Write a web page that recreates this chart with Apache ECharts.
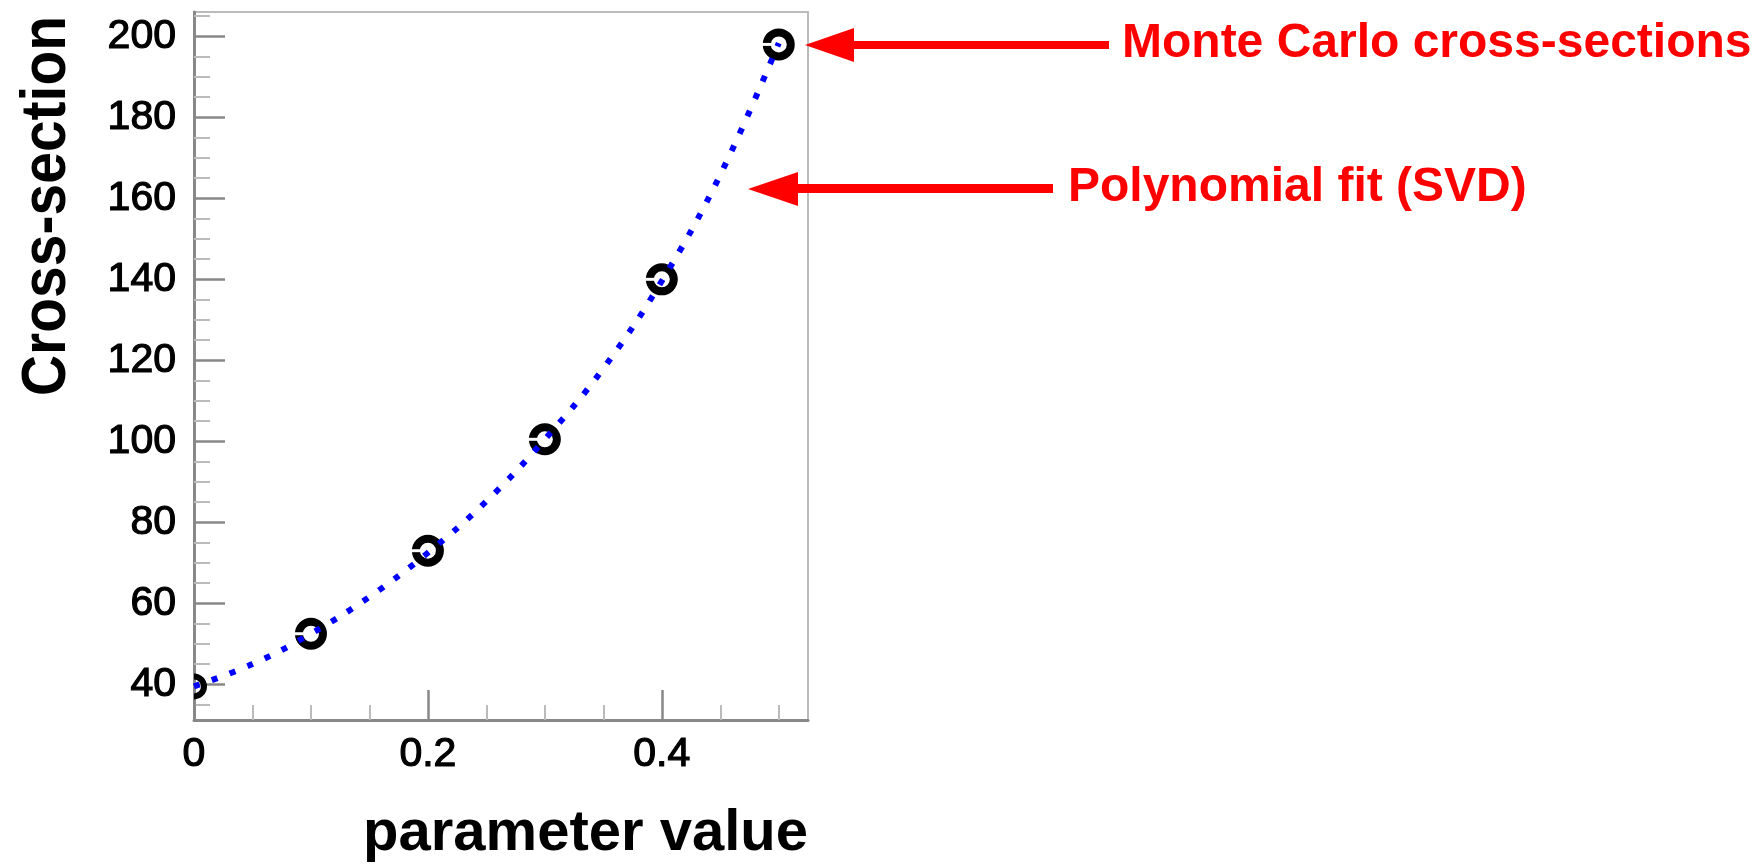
<!DOCTYPE html>
<html>
<head>
<meta charset="utf-8">
<title>Cross-section vs parameter value</title>
<script src="https://cdn.jsdelivr.net/npm/echarts@6/dist/echarts.min.js"></script>
<style>
  html, body { margin: 0; padding: 0; background: #fff; }
  #chart { width: 1755px; height: 865px; }
</style>
</head>
<body>
<div id="chart"></div>
<script>
// Monte Carlo points
const paramValues = [0, 0.1, 0.2, 0.3, 0.4, 0.5]
const mcCrossSections = [39.5, 52.5, 73, 100.5, 140, 198]
// polynomial fit curve
const fitX = [0, 0.05, 0.1, 0.15, 0.2, 0.25, 0.3, 0.35, 0.4, 0.45, 0.5]
const fitY = [39.5, 45, 52.5, 61.6, 72.5, 85.2, 100.5, 118, 139.6, 165.8, 198.3]
// axis ticks
const xLabelTicks = [0, 0.2, 0.4]
const xMinorTicks = [0.05, 0.1, 0.15, 0.25, 0.3, 0.35, 0.45, 0.5]
const yLabelTicks = [40, 60, 80, 100, 120, 140, 160, 180, 200]
const yMinorTicks = [35, 45, 50, 55, 65, 70, 75, 85, 90, 95, 105, 110, 115, 125, 130, 135,
  145, 150, 155, 165, 170, 175, 185, 190, 195, 205]

const FONT = '"Liberation Sans", Arial, Helvetica, sans-serif'
const MARKER_R = 12

let labelStyle = {
  color: '#000', fontSize: 41, fontFamily: FONT,
  textBorderColor: '#000', textBorderWidth: 1.2
}

let chart = echarts.init(document.getElementById('chart'))
let option = {
  animation: false,
  backgroundColor: '#fff',
  grid: {
    left: 194, right: 947, top: 12, bottom: 145,
    show: true, borderColor: '#bbb', borderWidth: 2,
    outerBoundsMode: 'none'
  },
  xAxis: [{
    type: 'value', min: 0, max: 0.525, position: 'bottom',
    axisLine: { show: true, onZero: false, lineStyle: { color: '#888', width: 3 } },
    axisTick: { show: true, inside: true, length: 15, customValues: xMinorTicks, lineStyle: { color: '#bbb', width: 2 } },
    axisLabel: Object.assign({ customValues: xLabelTicks, margin: 14 }, labelStyle),
    splitLine: { show: false }
  }, {
    type: 'value', min: 0, max: 0.525, position: 'bottom',
    axisLine: { show: false, onZero: false },
    axisTick: { show: true, inside: true, length: 30, customValues: xLabelTicks, lineStyle: { color: '#888', width: 2.5 } },
    axisLabel: { show: false },
    splitLine: { show: false }
  }],
  yAxis: [{
    type: 'value', min: 31.2, max: 206, position: 'left',
    axisLine: { show: true, onZero: false, lineStyle: { color: '#888', width: 3 } },
    axisTick: { show: true, inside: true, length: 16, customValues: yMinorTicks, lineStyle: { color: '#bbb', width: 2 } },
    axisLabel: Object.assign({ customValues: yLabelTicks, margin: 18 }, labelStyle),
    splitLine: { show: false }
  }, {
    type: 'value', min: 31.2, max: 206, position: 'left',
    axisLine: { show: false, onZero: false },
    axisTick: { show: true, inside: true, length: 31, customValues: yLabelTicks, lineStyle: { color: '#888', width: 2.5 } },
    axisLabel: { show: false },
    splitLine: { show: false }
  }],
  series: [{
    name: 'Monte Carlo cross-sections',
    type: 'custom',
    z: 2,
    encode: { x: 0, y: 1 },
    data: paramValues.map((x, i) => [x, mcCrossSections[i]]),
    renderItem: function (params, api) {
      let p = api.coord([api.value(0), api.value(1)])
      let left = params.coordSys.x
      if (p[0] - MARKER_R < left) {
        // marker sits on the frame: only the part inside the plot shows
        let t = Math.acos(Math.max(-1, Math.min(1, (left - p[0]) / MARKER_R)))
        return {
          type: 'arc',
          shape: { cx: p[0], cy: p[1], r: MARKER_R - 2, startAngle: -t, endAngle: t, clockwise: true },
          style: { fill: null, stroke: '#000', lineWidth: 6 }
        }
      }
      return {
        type: 'group',
        children: [{
          type: 'circle',
          shape: { cx: p[0], cy: p[1], r: MARKER_R },
          style: { fill: '#fff', stroke: '#000', lineWidth: 8 }
        }, {
          type: 'line',
          shape: { x1: p[0] - 17, y1: p[1], x2: p[0] + 2, y2: p[1] },
          style: { stroke: '#fff', lineWidth: 3 }
        }]
      }
    }
  }, {
    name: 'Polynomial fit (SVD)',
    type: 'line',
    z: 3,
    smooth: 0.4,
    showSymbol: false,
    data: fitX.map((x, i) => [x, fitY[i]]),
    lineStyle: { color: '#0000ff', width: 6, type: [6, 13], cap: 'butt' }
  }],
  graphic: [{
    type: 'text', x: 47, y: 206, rotation: Math.PI / 2, scaleY: 1.12,
    style: { text: 'Cross-section', fill: '#000', font: 'bold 57px ' + FONT, textAlign: 'center', textVerticalAlign: 'middle' }
  }, {
    type: 'text', x: 808, y: 834,
    style: { text: 'parameter value', fill: '#000', font: 'bold 58px ' + FONT, textAlign: 'right', textVerticalAlign: 'middle' }
  }, {
    type: 'text', x: 1122, y: 44,
    style: { text: 'Monte Carlo cross-sections', fill: '#ff0000', font: 'bold 48px ' + FONT, textAlign: 'left', textVerticalAlign: 'middle' }
  }, {
    type: 'text', x: 1068, y: 188,
    style: { text: 'Polynomial fit (SVD)', fill: '#ff0000', font: 'bold 48px ' + FONT, textAlign: 'left', textVerticalAlign: 'middle' }
  }, {
    type: 'polygon', shape: { points: [[805, 45], [854, 28], [854, 62]] }, style: { fill: '#ff0000' }
  }, {
    type: 'rect', shape: { x: 852, y: 41, width: 257, height: 8 }, style: { fill: '#ff0000' }
  }, {
    type: 'polygon', shape: { points: [[748, 189], [798, 172], [798, 206]] }, style: { fill: '#ff0000' }
  }, {
    type: 'rect', shape: { x: 796, y: 184, width: 257, height: 9 }, style: { fill: '#ff0000' }
  }]
}
chart.setOption(option)
</script>
</body>
</html>
